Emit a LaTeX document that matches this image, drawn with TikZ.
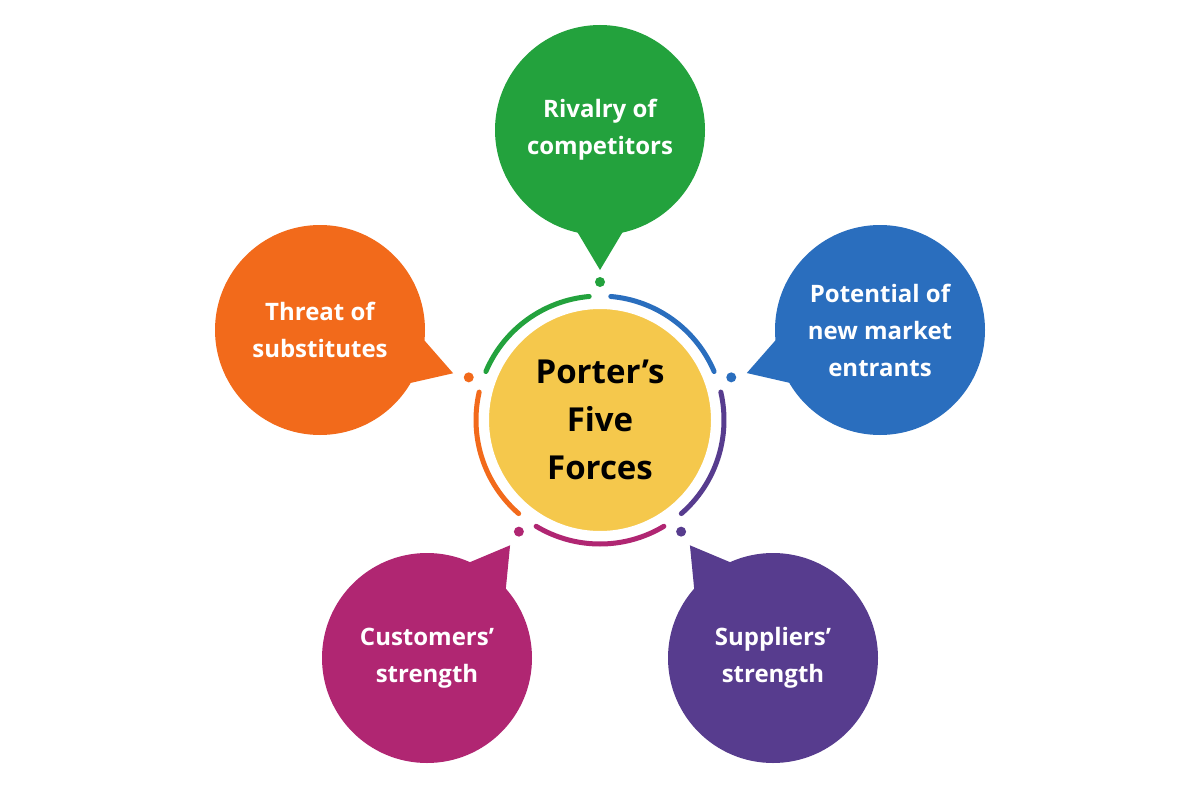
\documentclass[tikz,border=0pt]{standalone}
\usepackage{fontspec}
\setmainfont{Open Sans}
\usetikzlibrary{calc}
\definecolor{cgreen}{HTML}{23A23D}
\definecolor{cblue}{HTML}{2A6EBE}
\definecolor{cpurple}{HTML}{573C8E}
\definecolor{cmag}{HTML}{B02672}
\definecolor{corange}{HTML}{F26A1B}
\definecolor{cyellow}{HTML}{F5C84C}
\tikzset{
  btext/.style={text=white,align=center,font=\fontsize{24}{37}\selectfont\bfseries},
  ringarc/.style={line width=5pt,line cap=round},
}
% name, x, y(image), color, direction angle, text
\newcommand{\mybubble}[6]{%
  \coordinate (#1c) at (#2,-#3);
  \fill[#4] (#1c) circle[radius=105];
  \fill[#4] ($(#1c)+(#5-15:100)$) -- ($(#1c)+(#5:140)$) -- ($(#1c)+(#5+15:100)$) -- cycle;
  \node[btext] (#1) at (#1c) {#6};
}
\begin{document}
\begin{tikzpicture}[x=1pt,y=1pt]
\useasboundingbox[fill=white] (0,0) rectangle (1200,-800);
\coordinate (O) at (600,-420);
\mybubble{rivalry}{600}{130}{cgreen}{-90}{Rivalry of\\competitors}
\mybubble{entrants}{880}{330}{cblue}{197.9}{Potential of\\new market\\entrants}
\mybubble{suppliers}{773}{658}{cpurple}{126.4}{Suppliers'\\strength}
\mybubble{customers}{427}{658}{cmag}{53.6}{Customers'\\strength}
\mybubble{substitutes}{320}{330}{corange}{-18}{Threat of\\substitutes}
% ring arcs
\draw[ringarc,cgreen] ($(O)+(95:124)$) arc[start angle=95,end angle=157,radius=124];
\draw[ringarc,cblue] ($(O)+(23:124)$) arc[start angle=23,end angle=85,radius=124];
\draw[ringarc,cpurple] ($(O)+(-49:124)$) arc[start angle=-49,end angle=13,radius=124];
\draw[ringarc,cmag] ($(O)+(-121:124)$) arc[start angle=-121,end angle=-59,radius=124];
\draw[ringarc,corange] ($(O)+(167:124)$) arc[start angle=167,end angle=229,radius=124];
% dots
\fill[cgreen] ($(O)+(90:138)$) circle[radius=5];
\fill[cblue] ($(O)+(18:138)$) circle[radius=5];
\fill[cpurple] ($(O)+(-54:138)$) circle[radius=5];
\fill[cmag] ($(O)+(-126:138)$) circle[radius=5];
\fill[corange] ($(O)+(162:138)$) circle[radius=5];
% center
\fill[cyellow,draw=white,line width=4pt] (O) circle[radius=113];
\node[align=center,font=\fontsize{33}{48}\selectfont\bfseries] (center) at (O) {Porter's\\Five\\Forces};
\end{tikzpicture}
\end{document}
